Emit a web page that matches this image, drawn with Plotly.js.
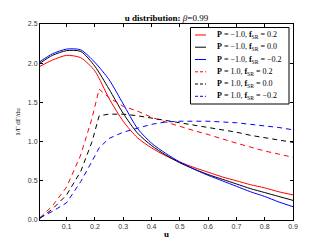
<!DOCTYPE html>
<html><head><meta charset="utf-8">
<script src="https://cdn.plot.ly/plotly-3.0.1.min.js"></script>
<style>html,body{margin:0;padding:0;background:#fff}#chart{width:325px;height:245px}</style>
</head><body><div id="chart"></div>
<script>
// ---- data ----
const xSolid = [0.006,0.05,0.1,0.15,0.2,0.25,0.3,0.35,0.4,0.45,0.5,0.55,0.6,0.65,0.7,0.75,0.8,0.85,0.9];
const redSolid   = [1.96,2.04,2.10,2.07,1.90,1.55,1.26,1.05,0.92,0.82,0.74,0.67,0.61,0.55,0.50,0.45,0.41,0.36,0.32];
const blackSolid = [2.00,2.10,2.16,2.15,1.96,1.67,1.36,1.11,0.95,0.83,0.73,0.65,0.58,0.52,0.46,0.40,0.35,0.30,0.25];
const blueSolid  = [2.02,2.12,2.18,2.17,2.01,1.79,1.48,1.17,0.98,0.85,0.74,0.65,0.57,0.50,0.43,0.36,0.30,0.23,0.17];

const xDash = [0.006,0.05,0.1,0.15,0.19,0.215,0.25,0.3,0.35,0.4,0.45,0.5,0.55,0.6,0.65,0.7,0.75,0.8,0.85,0.9];
const redDash   = [0.03,0.18,0.42,0.83,1.30,1.67,1.56,1.45,1.39,1.31,1.25,1.19,1.14,1.09,1.03,0.98,0.93,0.88,0.84,0.80];
const blackDash = [0.02,0.14,0.32,0.62,1.00,1.33,1.35,1.35,1.33,1.30,1.27,1.24,1.21,1.18,1.15,1.12,1.08,1.05,1.02,0.99];
const blueDash  = [0.03,0.11,0.22,0.49,0.75,0.92,1.04,1.12,1.17,1.22,1.25,1.26,1.26,1.26,1.25,1.24,1.22,1.20,1.18,1.15];

const seriesNames = [
  "<b>P</b> = −1.0, <b>f</b><sub>SR</sub> = 0.2",
  "<b>P</b> = −1.0, <b>f</b><sub>SR</sub> = 0.0",
  "<b>P</b> = −1.0, <b>f</b><sub>SR</sub> = −0.2",
  "<b>P</b> = 1.0, <b>f</b><sub>SR</sub> = 0.2",
  "<b>P</b> = 1.0, <b>f</b><sub>SR</sub> = 0.0",
  "<b>P</b> = 1.0, <b>f</b><sub>SR</sub> = −0.2"
];
const xTicks = [0.1,0.2,0.3,0.4,0.5,0.6,0.7,0.8,0.9];
const yTicks = [0.0,0.5,1.0,1.5,2.0,2.5];

// ---- layout helpers ----
const W=325,H=245,L=40,R=32,T=24,B=25;
const pw=W-L-R, ph=H-T-B;
const PX=v=>(v-L)/pw, PY=v=>(H-B-v)/ph;

const colors=['#ff0000','#000000','#0000ff','#ff0000','#000000','#0000ff'];
const dashes=['solid','solid','solid','5px,4px','5px,4px','5px,4px'];
const ys=[redSolid,blackSolid,blueSolid,redDash,blackDash,blueDash];

const traces = ys.map((y,i)=>({
  x: i<3 ? xSolid : xDash, y: y, type:'scatter', mode:'lines',
  name: seriesNames[i], showlegend:false,
  line:{color:colors[i], width:1, dash:dashes[i], shape: i<3?'spline':'linear', smoothing:0.7}
}));

const serif = '"Liberation Serif", "DejaVu Serif", serif';
const shapes=[{type:'rect',xref:'paper',yref:'paper',x0:PX(190.5),x1:PX(289),y0:PY(104),y1:PY(27.5),
  line:{color:'#000',width:1},fillcolor:'#fff',layer:'above'}];
const annotations=[];
const rowY=[35,47.2,59.5,71.8,84,96.3];
rowY.forEach((yy,i)=>{
  shapes.push({type:'line',xref:'paper',yref:'paper',x0:PX(195),x1:PX(206),y0:PY(yy),y1:PY(yy),
    line:{color:colors[i],width:1,dash:dashes[i]==='solid'?'solid':'3px,2px'},layer:'above'});
  annotations.push({xref:'paper',yref:'paper',x:PX(215),y:PY(yy),xanchor:'left',yanchor:'middle',
    text:seriesNames[i],showarrow:false,font:{family:serif,size:8,color:'#000'}});
});

const axisCommon = {showline:true, linecolor:'#000', linewidth:1, mirror:'allticks',
  ticks:'inside', ticklen:3, tickcolor:'#000', showgrid:false, zeroline:false,
  tickfont:{family:'"Liberation Sans", Arial, sans-serif', size:7, color:'#333'}};

const layout = {
  width:W, height:H, margin:{l:L,r:R,t:T,b:B},
  paper_bgcolor:'#fff', plot_bgcolor:'#fff', showlegend:false,
  title:{text:'<b>u distribution:</b> <i>β</i>=0.99', x:PX(166.5), xref:'paper', xanchor:'center',
    y:1-18/H, yref:'container', yanchor:'middle', font:{family:serif,size:9,color:'#000'}},
  xaxis: Object.assign({}, axisCommon, {range:[0.006,0.9], tickvals:xTicks, tickformat:'.1f',
    title:{text:'<b>u</b>', font:{family:serif,size:9,color:'#000'}, standoff:1}}),
  yaxis: Object.assign({}, axisCommon, {range:[0,2.5], tickvals:yTicks, tickformat:'.1f',
    title:{text:'1/Γ dΓ/du', font:{family:serif,size:7,color:'#000'}, standoff:6}}),
  shapes:shapes, annotations:annotations
};
Plotly.newPlot('chart', traces, layout, {staticPlot:true, displayModeBar:false});
</script></body></html>
